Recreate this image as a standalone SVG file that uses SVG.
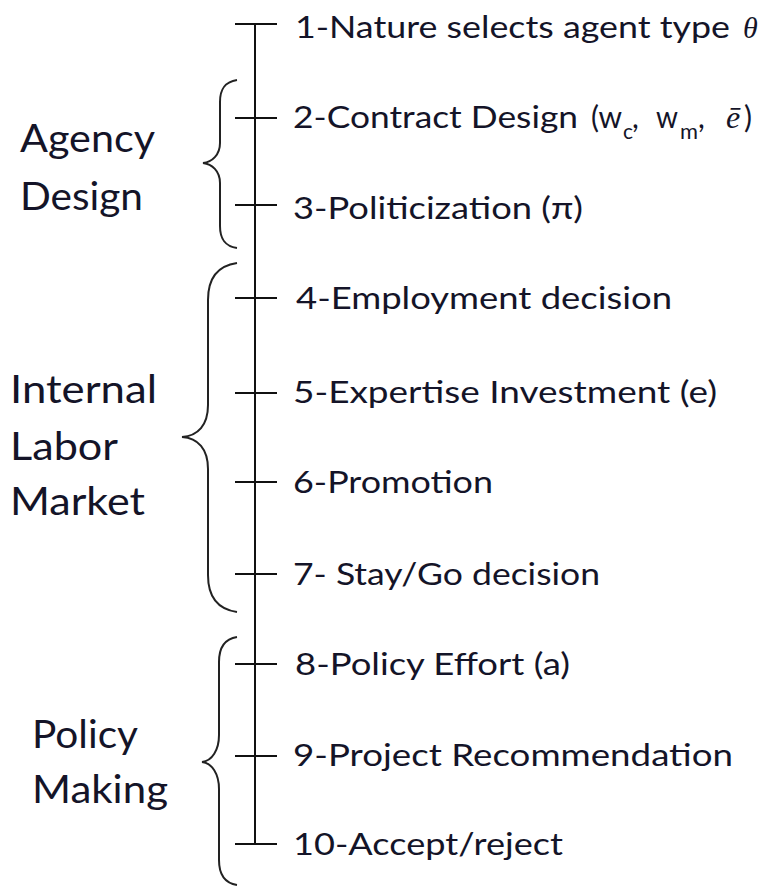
<svg xmlns="http://www.w3.org/2000/svg" width="770" height="887" viewBox="0 0 770 887">
<style>
.ln{stroke:#111;stroke-width:2;fill:none}
.br{stroke:#222;stroke-width:2;fill:none}
.r{font-family:Lato,"Open Sans","Liberation Sans",sans-serif;font-size:30px;fill:#141428}
.l{font-family:Lato,"Open Sans","Liberation Sans",sans-serif;font-size:38px;fill:#141428}
.sub{font-size:21px}
.it{font-family:"Liberation Serif","DejaVu Serif",serif;font-style:italic}
</style>
<rect width="770" height="887" fill="#fff"/>
<g id="connectors">
<line class="ln" x1="255" y1="24" x2="255" y2="844"/>
<line class="ln" x1="235" y1="24" x2="277" y2="24"/>
<line class="ln" x1="235" y1="118" x2="277" y2="118"/>
<line class="ln" x1="235" y1="205" x2="277" y2="205"/>
<line class="ln" x1="235" y1="298" x2="277" y2="298"/>
<line class="ln" x1="235" y1="393" x2="277" y2="393"/>
<line class="ln" x1="235" y1="482" x2="277" y2="482"/>
<line class="ln" x1="235" y1="574" x2="277" y2="574"/>
<line class="ln" x1="235" y1="664" x2="277" y2="664"/>
<line class="ln" x1="235" y1="756" x2="277" y2="756"/>
<line class="ln" x1="235" y1="844" x2="277" y2="844"/>
</g>
<g id="brace-agency"><path class="br" d="M237,80 C224,82 220,90 220,102 L220,143 C220,155 212,162 203,163 C212,164 220,171 220,183 L220,226 C220,238 224,246 237,248"/></g>
<g id="brace-labor"><path class="br" d="M237,263 C216,266 208,280 208,300 L208,405 C208,425 198,436 182,437 C198,438 208,449 208,469 L208,575 C208,595 216,609 237,612"/></g>
<g id="brace-policy"><path class="br" d="M237,637 C224,639 219,648 219,662 L219,735 C219,750 212,761 202,762 C212,763 219,774 219,789 L219,860 C219,874 224,883 237,885"/></g>
<g id="group-agency"><text class="l" x="20" y="152" textLength="135" lengthAdjust="spacingAndGlyphs">Agency</text><text class="l" x="20" y="210" textLength="123" lengthAdjust="spacingAndGlyphs">Design</text></g>
<g id="group-labor"><text class="l" x="10" y="403" textLength="147" lengthAdjust="spacingAndGlyphs">Internal</text><text class="l" x="10" y="460" textLength="108" lengthAdjust="spacingAndGlyphs">Labor</text><text class="l" x="10" y="515" textLength="135" lengthAdjust="spacingAndGlyphs">Market</text></g>
<g id="group-policy"><text class="l" x="32" y="748" textLength="106" lengthAdjust="spacingAndGlyphs">Policy</text><text class="l" x="32" y="803" textLength="136" lengthAdjust="spacingAndGlyphs">Making</text></g>
<g id="step1"><text class="r" x="295" y="38" textLength="435" lengthAdjust="spacingAndGlyphs">1-Nature selects agent type</text><text class="r it" x="743" y="38" font-size="33">θ</text></g>
<g id="step2"><text class="r" y="128"><tspan x="293" textLength="285" lengthAdjust="spacingAndGlyphs">2-Contract Design</tspan><tspan x="591" textLength="31" lengthAdjust="spacingAndGlyphs">(w</tspan><tspan class="sub" x="623" y="139">c</tspan><tspan x="632" y="128">,</tspan><tspan x="656" textLength="22" lengthAdjust="spacingAndGlyphs">w</tspan><tspan class="sub" x="680" y="139" textLength="18" lengthAdjust="spacingAndGlyphs">m</tspan><tspan x="698" y="128">,</tspan><tspan class="it" x="726" font-size="32">ē</tspan><tspan x="744">)</tspan></text></g>
<g id="step3"><text class="r" x="293" y="219" textLength="290" lengthAdjust="spacingAndGlyphs">3-Politicization (π)</text></g>
<g id="step4"><text class="r" x="296" y="309" textLength="376" lengthAdjust="spacingAndGlyphs">4-Employment decision</text></g>
<g id="step5"><text class="r" x="293" y="403" textLength="424" lengthAdjust="spacingAndGlyphs">5-Expertise Investment (e)</text></g>
<g id="step6"><text class="r" x="293" y="493" textLength="200" lengthAdjust="spacingAndGlyphs">6-Promotion</text></g>
<g id="step7"><text class="r" x="293" y="585" textLength="307" lengthAdjust="spacingAndGlyphs">7- Stay/Go decision</text></g>
<g id="step8"><text class="r" x="295" y="675" textLength="275" lengthAdjust="spacingAndGlyphs">8-Policy Effort (a)</text></g>
<g id="step9"><text class="r" x="293" y="766" textLength="440" lengthAdjust="spacingAndGlyphs">9-Project Recommendation</text></g>
<g id="step10"><text class="r" x="293" y="855" textLength="270" lengthAdjust="spacingAndGlyphs">10-Accept/reject</text></g>
</svg>
